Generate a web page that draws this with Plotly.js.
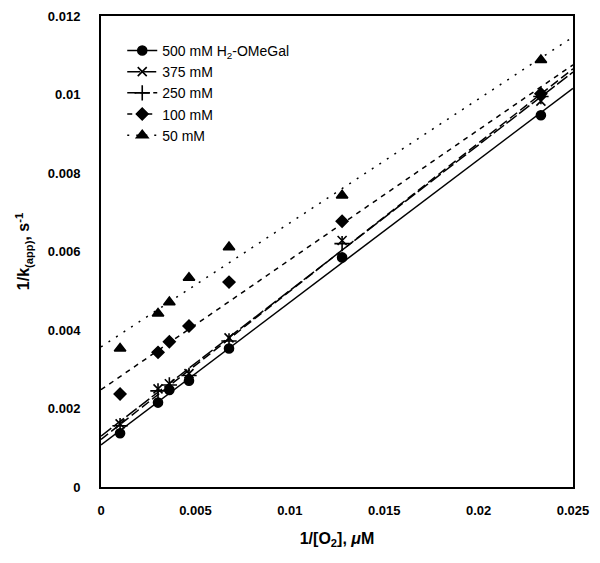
<!DOCTYPE html>
<html>
<head>
<meta charset="utf-8">
<script src="https://cdn.plot.ly/plotly-3.0.1.min.js"></script>
<style>body{margin:0;background:#fff}#chart{width:600px;height:563px}</style>
</head>
<body>
<div id="chart"></div>
<script>
// 1/[O2] values (µM^-1)
var invO2 = [0.00101, 0.00302, 0.00362, 0.00466, 0.00678, 0.01277, 0.02330];
// 1/k(app) values (s)
var y500 = [0.00137, 0.00215, 0.00247, 0.00271, 0.00353, 0.00585, 0.00947];
var y375 = [0.00161, 0.00250, 0.00263, 0.00289, 0.00380, 0.00628, 0.00983];
var y250 = [0.00156, 0.00245, 0.00260, 0.00284, 0.00372, 0.00620, 0.00995];
var y100 = [0.00237, 0.00343, 0.00370, 0.00410, 0.00522, 0.00677, 0.01002];
var y50  = [0.00353, 0.00442, 0.00471, 0.00533, 0.00611, 0.00743, 0.01088];
var seriesNames = ["500 mM H<sub>2</sub>-OMeGal", "375 mM", "250 mM", "100 mM", "50 mM"];
var xRange = [0, 0.025];
var yRange = [0, 0.012];

var seriesY = [y500, y375, y250, y100, y50];
var symbols = ["circle", "x-thin-open", "cross-thin-open", "diamond", "triangle-up"];
var msizes = [9, 9, 11, 9, 10];
var dashes = ["solid", "13px,3px", "9px,4px", "5px,5px", "2px,7px"];

function fit(x, y) {
  var n = x.length, sx = 0, sy = 0, sxx = 0, sxy = 0;
  for (var i = 0; i < n; i++) { sx += x[i]; sy += y[i]; sxx += x[i]*x[i]; sxy += x[i]*y[i]; }
  var b = (n*sxy - sx*sy) / (n*sxx - sx*sx);
  var a = (sy - b*sx) / n;
  return [a, b];
}

var traces = [];
seriesY.forEach(function (ys, i) {
  var ab = fit(invO2, ys);
  traces.push({
    x: xRange.slice(), y: xRange.map(function (v) { return ab[0] + ab[1]*v; }),
    mode: "lines", line: {color: "#000", width: 1.5, dash: dashes[i]},
    showlegend: false, hoverinfo: "skip"
  });
  traces.push({
    x: invO2, y: ys, mode: "markers",
    marker: {symbol: symbols[i], size: msizes[i], color: "#000", line: {color: "#000", width: 1.6}},
    showlegend: false, cliponaxis: false
  });
  traces.push({
    x: [null], y: [null], mode: "lines+markers", name: seriesNames[i],
    line: {color: "#000", width: 1.5, dash: dashes[i]},
    marker: {symbol: symbols[i], size: msizes[i], color: "#000", line: {color: "#000", width: 1.6}},
    showlegend: true
  });
});

var layout = {
  width: 600, height: 563,
  margin: {l: 101, r: 27, t: 16, b: 76},
  paper_bgcolor: "#fff", plot_bgcolor: "#fff",
  font: {family: "Liberation Sans, Arial, sans-serif", color: "#000"},
  showlegend: true,
  legend: {x: 0.045, y: 0.96, xanchor: "left", yanchor: "top", bgcolor: "rgba(0,0,0,0)",
           font: {size: 14, family: "Liberation Sans, Arial, sans-serif"}, tracegroupgap: 0},
  xaxis: {
    range: xRange, tickvals: [0, 0.005, 0.01, 0.015, 0.02, 0.025],
    ticktext: ["0", "0.005", "0.01", "0.015", "0.02", "0.025"],
    showgrid: false, zeroline: false, showline: true, mirror: true, linecolor: "#000", linewidth: 2,
    ticks: "outside", ticklen: 10, tickcolor: "rgba(0,0,0,0)",
    tickfont: {size: 13, family: "Liberation Sans, Arial, sans-serif", weight: "bold"},
    title: {text: "<b>1/[O<sub>2</sub>], <i>μ</i>M</b>", font: {size: 16}, standoff: 16}
  },
  yaxis: {
    range: yRange, tickvals: [0, 0.002, 0.004, 0.006, 0.008, 0.01, 0.012],
    ticktext: ["0", "0.002", "0.004", "0.006", "0.008", "0.01", "0.012"],
    showgrid: false, zeroline: false, showline: true, mirror: true, linecolor: "#000", linewidth: 2,
    ticks: "outside", ticklen: 16, tickcolor: "rgba(0,0,0,0)",
    tickfont: {size: 13, family: "Liberation Sans, Arial, sans-serif", weight: "bold"},
    title: {text: "<b>1/k<sub>(app)</sub>, s<sup>-1</sup></b>", font: {size: 16}, standoff: 14}
  }
};

Plotly.newPlot("chart", traces, layout, {staticPlot: true, displayModeBar: false});
</script>
</body>
</html>
